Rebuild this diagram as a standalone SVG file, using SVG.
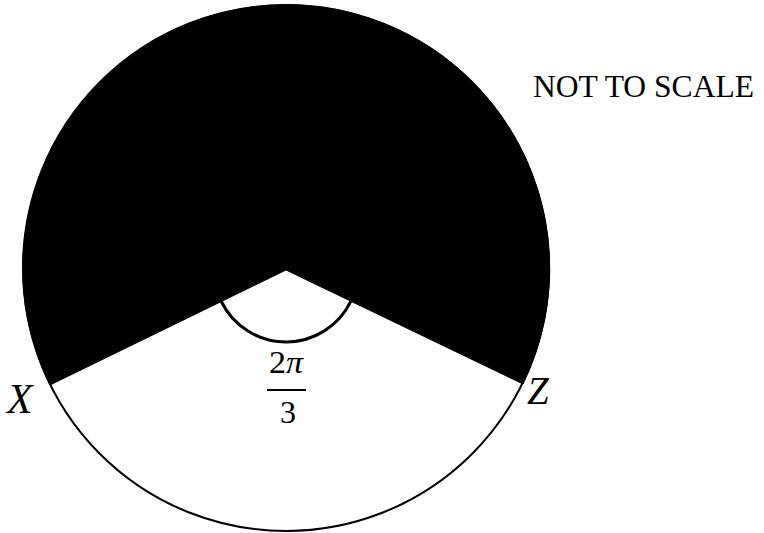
<svg xmlns="http://www.w3.org/2000/svg" width="764" height="533" viewBox="0 0 764 533">
<style>
.lbl{font-family:"Liberation Serif","Times New Roman",serif;fill:#000}
.it{font-style:italic}
</style>
<rect width="764" height="533" fill="#fff"/>
<g id="circle">
<circle cx="286" cy="268" r="263" fill="none" stroke="#000" stroke-width="2"/>
</g>
<g id="shaded">
<path d="M286,270 L50,385 A263.5,263.5 0 1 1 523,384 Z" fill="#000" stroke="#000" stroke-width="1"/>
</g>
<g id="angle">
<path d="M221.3,301.5 A72,72 0 0 0 350.9,301.2" fill="none" stroke="#000" stroke-width="3"/>
<text class="lbl" x="286" y="373" font-size="31" text-anchor="middle" textLength="34" lengthAdjust="spacingAndGlyphs">2<tspan class="it">π</tspan></text>
<line x1="267" y1="390" x2="306" y2="390" stroke="#000" stroke-width="2"/>
<text class="lbl" x="288" y="423" font-size="32" text-anchor="middle">3</text>
</g>
<g id="X"><text class="lbl it" x="7" y="413" font-size="42">X</text></g>
<g id="Z"><text class="lbl it" x="527" y="404" font-size="39">Z</text></g>
<g id="note"><text class="lbl" x="533" y="97" font-size="31" textLength="221" lengthAdjust="spacingAndGlyphs">NOT TO SCALE</text></g>
</svg>
